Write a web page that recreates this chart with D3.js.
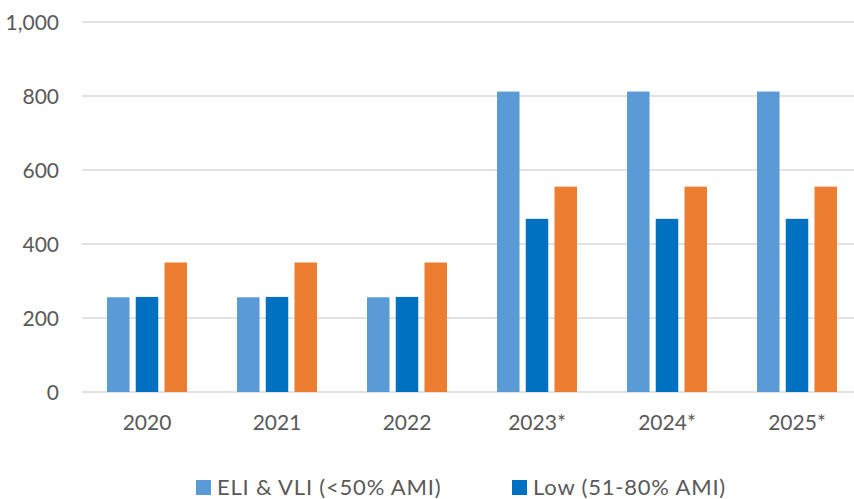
<!DOCTYPE html>
<html>
<head>
<meta charset="utf-8">
<script src="https://cdn.jsdelivr.net/npm/d3@7"></script>
<style>
  body { margin: 0; background: #fff; overflow: hidden; }
  svg text { font-family: Lato, "Open Sans", sans-serif; fill: #595959; }
</style>
</head>
<body>
<svg id="chart" width="854" height="499"></svg>
<script>
// data
var years = ["2020", "2021", "2022", "2023*", "2024*", "2025*"];
var seriesNames = ["ELI & VLI (<50% AMI)", "Low (51-80% AMI)", "Moderate (81-120% AMI)"];
var eliVli = [256, 256, 256, 812, 812, 812];
var low = [257, 257, 257, 468, 468, 468];
var moderate = [350, 350, 350, 555, 555, 555];
var yTicks = [0, 200, 400, 600, 800, 1000];
var colors = ["#5B9BD5", "#0070C0", "#ED7D31"];

var allSeries = [eliVli, low, moderate];
var svg = d3.select("#chart");

// scales
var y = d3.scaleLinear().domain([0, 1000]).range([392, 22]);
var x0 = d3.scaleBand().domain(years).range([82, 862])
  .paddingInner(50 / 130).paddingOuter(25 / 130);
var x1 = d3.scaleBand().domain([0, 1, 2]).range([0, x0.bandwidth()])
  .paddingInner(0.217);

// grid lines + y labels
svg.append("g").selectAll("line")
  .data(yTicks)
  .join("line")
  .attr("x1", 82).attr("x2", 854)
  .attr("y1", d => y(d)).attr("y2", d => y(d))
  .attr("stroke", "#D9D9D9").attr("stroke-width", 1.5);

svg.append("g").selectAll("text")
  .data(yTicks)
  .join("text")
  .attr("x", 59).attr("y", d => y(d))
  .attr("dy", "0.36em")
  .attr("text-anchor", "end")
  .style("font-size", "21px")
  .text(d => d3.format(",")(d));

// bars
var groups = svg.append("g").selectAll("g")
  .data(years)
  .join("g")
  .attr("transform", d => "translate(" + x0(d) + ",0)");

groups.selectAll("rect")
  .data((d, i) => allSeries.map((s, k) => ({k: k, v: s[i]})))
  .join("rect")
  .attr("x", d => x1(d.k))
  .attr("width", x1.bandwidth())
  .attr("y", d => y(d.v))
  .attr("height", d => y(0) - y(d.v))
  .attr("fill", d => colors[d.k]);

// x labels
svg.append("g").selectAll("text")
  .data(years)
  .join("text")
  .attr("x", d => x0(d) + x0.bandwidth() / 2)
  .attr("y", 430)
  .attr("text-anchor", "middle")
  .style("font-size", "21px")
  .text(d => d);

// legend - third entry wraps to a row below the visible area
var legendPos = [[196, 480], [512, 480], [196, 515]];
var legend = svg.append("g").selectAll("g")
  .data(seriesNames)
  .join("g")
  .attr("transform", (d, i) => "translate(" + legendPos[i][0] + "," + legendPos[i][1] + ")");

legend.append("rect")
  .attr("width", 15).attr("height", 15)
  .attr("fill", (d, i) => colors[i]);

legend.append("text")
  .attr("x", 21).attr("y", 14.5)
  .style("font-size", "22px")
  .style("letter-spacing", "0.8px")
  .text(d => d);
</script>
</body>
</html>
